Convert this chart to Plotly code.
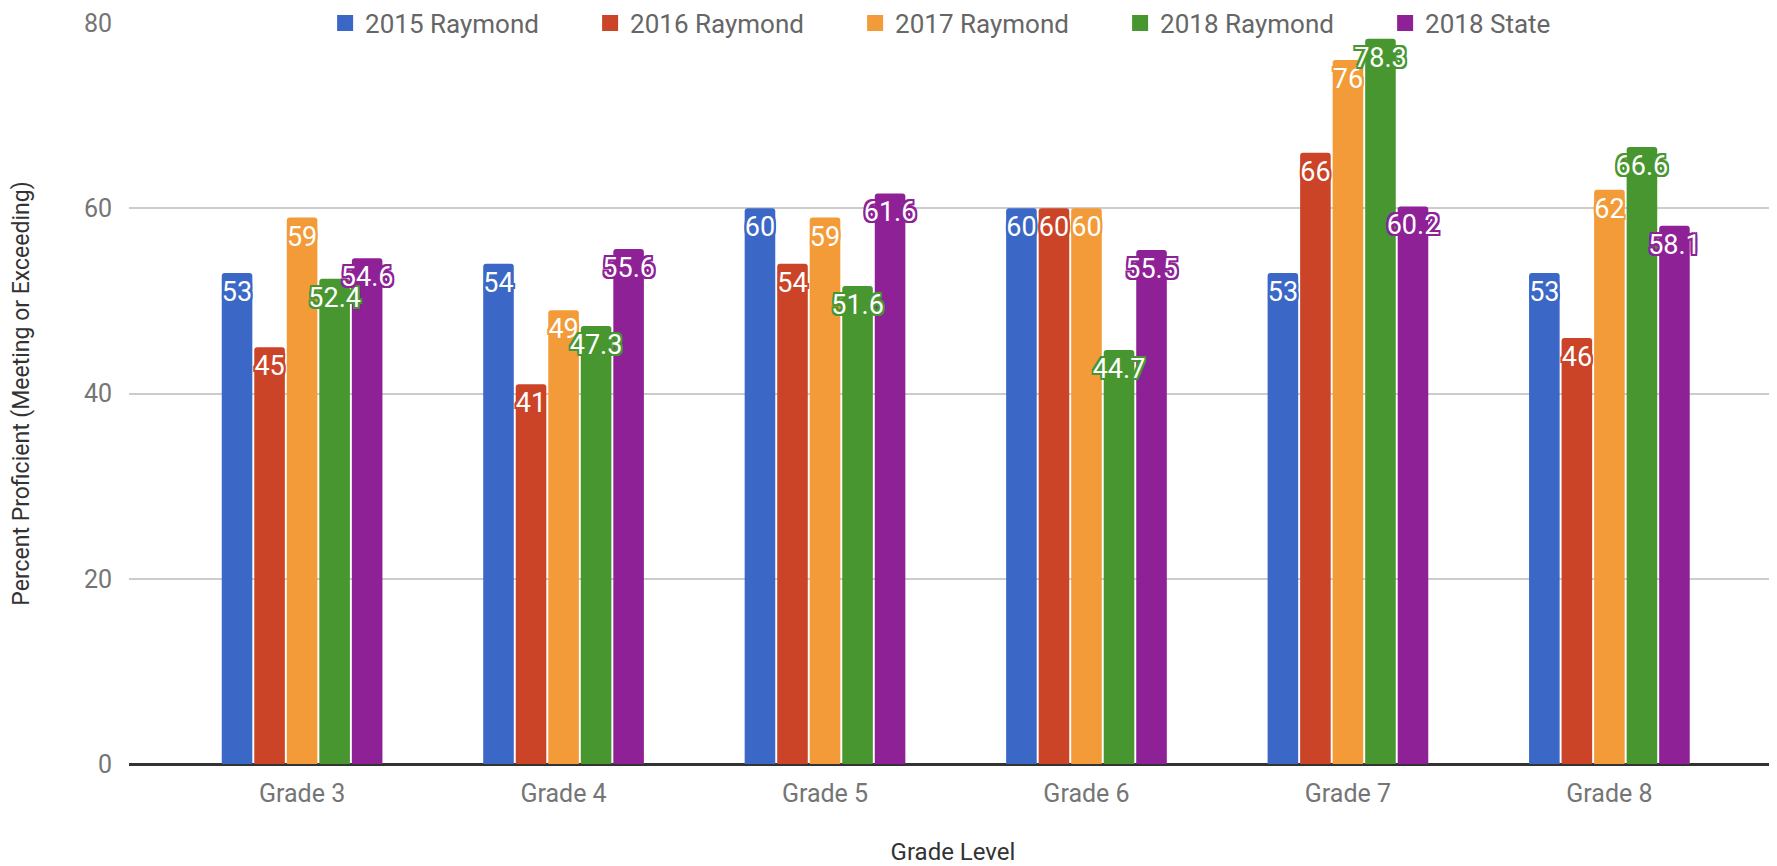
import plotly.graph_objects as go

grades = ["Grade 3", "Grade 4", "Grade 5", "Grade 6", "Grade 7", "Grade 8"]
series_names = ["2015 Raymond", "2016 Raymond", "2017 Raymond", "2018 Raymond", "2018 State"]
v2015 = [53, 54, 60, 60, 53, 53]
v2016 = [45, 41, 54, 60, 66, 46]
v2017 = [59, 49, 59, 60, 76, 62]
v2018 = [52.4, 47.3, 51.6, 44.7, 78.3, 66.6]
vstate = [54.6, 55.6, 61.6, 55.5, 60.2, 58.1]
y_ticks = [0, 20, 40, 60, 80]

colors = ["#3b67c6", "#cc4428", "#f29b38", "#47962f", "#8e2196"]
all_values = [v2015, v2016, v2017, v2018, vstate]

FONT = "Roboto, Arial, sans-serif"

# group geometry (in category units)
GROUP = 0.622
SLOT = GROUP / len(series_names)
BAR_W = SLOT * 0.94


def halo(c, r=2):
    offs = [(-r, 0), (r, 0), (0, -r), (0, r), (-r, -r), (r, r), (-r, r), (r, -r)]
    return ", ".join(f"{x}px {y}px 0 {c}" for x, y in offs)


fig = go.Figure()
# coloured bars
for i, (name, vals, col) in enumerate(zip(series_names, all_values, colors)):
    off = -GROUP / 2 + i * SLOT + (SLOT - BAR_W) / 2
    fig.add_trace(go.Bar(
        name=name,
        x=grades,
        y=vals,
        width=BAR_W,
        offset=off,
        marker=dict(color=col, cornerradius=3, line=dict(width=0)),
        showlegend=False,
        legendgroup=name,
        hoverinfo="x+y+name",
    ))
# value labels drawn above all bars
for i, (name, vals, col) in enumerate(zip(series_names, all_values, colors)):
    off = -GROUP / 2 + i * SLOT + (SLOT - BAR_W) / 2
    fig.add_trace(go.Bar(
        name=name,
        x=grades,
        y=vals,
        width=BAR_W,
        offset=off,
        marker=dict(color="rgba(0,0,0,0)", line=dict(width=0)),
        text=[f"{v:g}" for v in vals],
        textposition="inside",
        insidetextanchor="end",
        textangle=0,
        constraintext="none",
        cliponaxis=False,
        textfont=dict(family=FONT, size=27, color="white", shadow=halo(col)),
        showlegend=False,
        legendgroup=name,
        hoverinfo="skip",
    ))
# legend entries with large square swatches
for name, col in zip(series_names, colors):
    fig.add_trace(go.Scatter(
        name=name,
        x=[None],
        y=[None],
        mode="markers",
        marker=dict(symbol="square", size=22, color=col),
        legendgroup=name,
        showlegend=True,
    ))

fig.update_layout(
    width=1777,
    height=866,
    barmode="overlay",
    plot_bgcolor="white",
    paper_bgcolor="white",
    margin=dict(l=121, r=8, t=15, b=110, autoexpand=False),
    font=dict(family=FONT, size=24, color="#757575"),
    legend=dict(
        orientation="h",
        x=0.119,
        xanchor="left",
        y=1,
        yanchor="middle",
        bgcolor="rgba(0,0,0,0)",
        font=dict(family=FONT, size=26, color="#666666", shadow=halo("white", 3)),
        entrywidth=220,
        entrywidthmode="pixels",
        itemsizing="trace",
        traceorder="normal",
    ),
    showlegend=True,
)

fig.update_xaxes(
    type="category",
    range=[-0.662, 5.641],
    showgrid=False,
    showline=False,
    ticks="",
    ticklabelstandoff=12,
    tickfont=dict(family=FONT, size=25, color="#757575"),
    title=dict(text="Grade Level", font=dict(family=FONT, size=24, color="#333333"), standoff=36),
)
fig.update_yaxes(
    range=[0, 80],
    tickvals=y_ticks,
    showgrid=True,
    gridcolor="#cccccc",
    gridwidth=1.5,
    zeroline=True,
    zerolinecolor="#333333",
    zerolinewidth=2.5,
    showline=False,
    ticks="",
    ticklabelstandoff=16,
    tickfont=dict(family=FONT, size=25, color="#757575"),
    title=dict(text="Percent Proficient (Meeting or Exceeding)",
               font=dict(family=FONT, size=23, color="#333333"), standoff=47),
)

fig.write_html("out.html")
